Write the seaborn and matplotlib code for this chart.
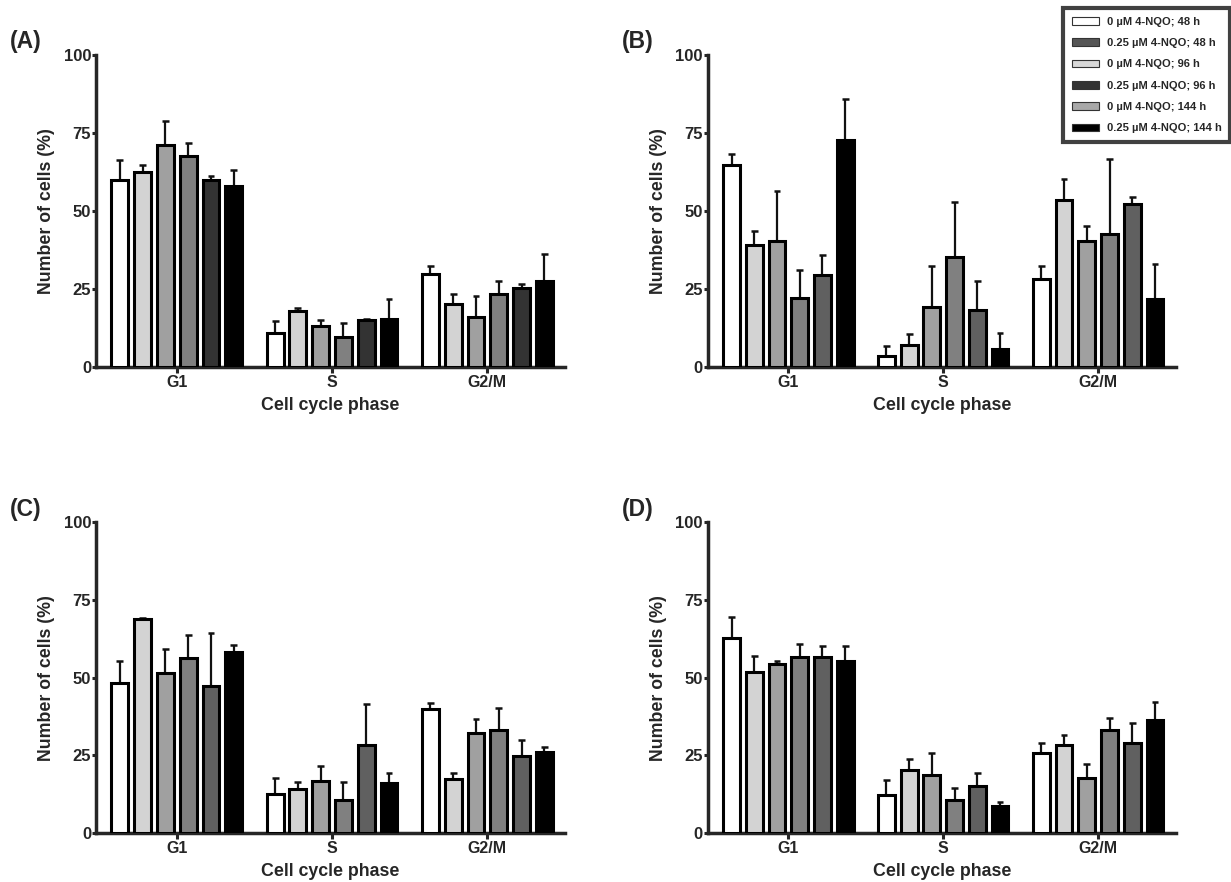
import matplotlib
matplotlib.use("Agg")
import matplotlib.pyplot as plt
from matplotlib.patches import Patch
import numpy as np
import pandas as pd
import seaborn as sns

sns.set_style("ticks")
plt.rcParams["font.family"] = ["Liberation Sans", "DejaVu Sans"]
plt.rcParams["font.weight"] = "bold"

phases = ["G1", "S", "G2/M"]
groups = ["0 µM 4-NQO; 48 h", "0.25 µM 4-NQO; 48 h", "0 µM 4-NQO; 96 h",
          "0.25 µM 4-NQO; 96 h", "0 µM 4-NQO; 144 h", "0.25 µM 4-NQO; 144 h"]
legend_colors = ["#ffffff", "#555555", "#d8d8d8", "#333333", "#a8a8a8", "#000000"]

# mean values, one list per phase (six groups each)
mean_A = [[60.0, 62.5, 71.2, 67.5, 60.0, 57.8],
          [11.0, 17.9, 13.1, 9.5, 15.1, 15.4],
          [29.6, 20.0, 16.0, 23.4, 25.4, 27.6]]
sd_A = [[6.3, 2.3, 7.6, 4.1, 1.3, 5.3],
        [3.6, 1.1, 2.0, 4.5, 0.1, 6.3],
        [2.8, 3.5, 6.6, 4.1, 1.1, 8.6]]

mean_B = [[64.8, 39.0, 40.3, 22.0, 29.3, 72.7],
          [3.5, 7.1, 19.2, 35.2, 18.3, 5.6],
          [28.1, 53.5, 40.4, 42.7, 52.2, 21.8]]
sd_B = [[3.4, 4.5, 16.2, 9.0, 6.6, 13.2],
        [3.2, 3.6, 13.2, 17.7, 9.2, 5.3],
        [4.1, 6.8, 4.6, 23.9, 2.2, 11.2]]

mean_C = [[48.2, 68.8, 51.4, 56.4, 47.2, 58.3],
          [12.6, 14.2, 16.7, 10.7, 28.3, 16.2],
          [39.8, 17.3, 32.1, 33.2, 24.9, 26.0]]
sd_C = [[7.1, 0.4, 7.7, 7.3, 17.1, 2.2],
        [5.1, 2.1, 4.9, 5.8, 13.2, 3.2],
        [2.0, 2.1, 4.7, 7.2, 5.1, 1.6]]

mean_D = [[62.7, 51.8, 54.3, 56.6, 56.6, 55.5],
          [12.2, 20.3, 18.6, 10.5, 15.0, 8.8],
          [25.6, 28.4, 17.6, 33.3, 28.9, 36.3]]
sd_D = [[6.9, 5.2, 1.2, 4.4, 3.6, 4.7],
        [4.8, 3.4, 7.1, 4.1, 4.2, 1.3],
        [3.3, 3.3, 4.7, 3.7, 6.5, 5.9]]

bar_colors_A = ["#ffffff", "#d3d3d3", "#a0a0a0", "#808080", "#333333", "#000000"]
bar_colors_BCD = ["#ffffff", "#d3d3d3", "#a0a0a0", "#808080", "#606060", "#000000"]

panels = [
    ("(A)", mean_A, sd_A, bar_colors_A, [0.078, 0.584, 0.381, 0.354]),
    ("(B)", mean_B, sd_B, bar_colors_BCD, [0.575, 0.584, 0.380, 0.354]),
    ("(C)", mean_C, sd_C, bar_colors_BCD, [0.078, 0.0556, 0.381, 0.352]),
    ("(D)", mean_D, sd_D, bar_colors_BCD, [0.575, 0.0556, 0.380, 0.352]),
]

fig = plt.figure(figsize=(12.31, 8.82), dpi=100)

for label, means, sds, colors, rect in panels:
    rows = []
    for pi, ph in enumerate(phases):
        for gi, g in enumerate(groups):
            rows.append({"phase": ph, "group": g,
                         "value": means[pi][gi], "sd": sds[pi][gi]})
    df = pd.DataFrame(rows)
    ax = fig.add_axes(rect)
    sns.barplot(data=df, x="phase", y="value", hue="group",
                order=phases, hue_order=groups, palette=colors,
                width=0.88, gap=0.26, edgecolor="black", linewidth=2.2,
                errorbar=None, legend=False, ax=ax, zorder=3)
    # upper error bars
    for gi, cont in enumerate(ax.containers):
        for pi, bar in enumerate(cont):
            xc = bar.get_x() + bar.get_width() / 2
            m = means[pi][gi]
            s = sds[pi][gi]
            ax.plot([xc, xc], [m, m + s], color="#111111", lw=1.6,
                    zorder=2, solid_capstyle="butt")
            ax.plot([xc - 0.022, xc + 0.022], [m + s, m + s], color="#111111",
                    lw=1.8, zorder=2, solid_capstyle="butt")
    ax.set_xlim(-0.52, 2.5)
    ax.set_ylim(0, 100)
    ax.set_yticks([0, 25, 50, 75, 100])
    ax.set_yticklabels(["0", "25", "50", "75", "100"], fontsize=12, fontweight="bold")
    ax.set_xticks(range(3))
    ax.set_xticklabels(phases, fontsize=11.5, fontweight="bold")
    ax.set_xlabel("Cell cycle phase", fontsize=12.8, fontweight="bold", labelpad=5)
    ax.set_ylabel("Number of cells (%)", fontsize=12.8, fontweight="bold", labelpad=6)
    sns.despine(ax=ax)
    for sp in ["left", "bottom"]:
        ax.spines[sp].set_linewidth(2.5)
    ax.tick_params(axis="y", width=2.2, length=3, direction="out", pad=0.5)
    ax.tick_params(axis="x", width=2.2, length=4, direction="out", pad=2)
    ax.set_facecolor("white")
    x0 = rect[0] - 0.070
    fig.text(x0, rect[1] + rect[3] + 0.002, label, fontsize=16.5, fontweight="bold",
             ha="left", va="bottom")

handles = [Patch(facecolor=c, edgecolor="#333333", linewidth=0.8) for c in legend_colors]
leg = fig.legend(handles, groups, loc="upper right", bbox_to_anchor=(0.9995, 0.991),
                 prop={"weight": "bold", "size": 8}, frameon=True, fancybox=False,
                 handlelength=2.4, handleheight=0.7, labelspacing=1.02,
                 borderpad=0.8, handletextpad=0.7, borderaxespad=0)
leg.get_frame().set_edgecolor("#111111")
leg.get_frame().set_linewidth(3)

fig.savefig("out.png", dpi=100, facecolor="white")
